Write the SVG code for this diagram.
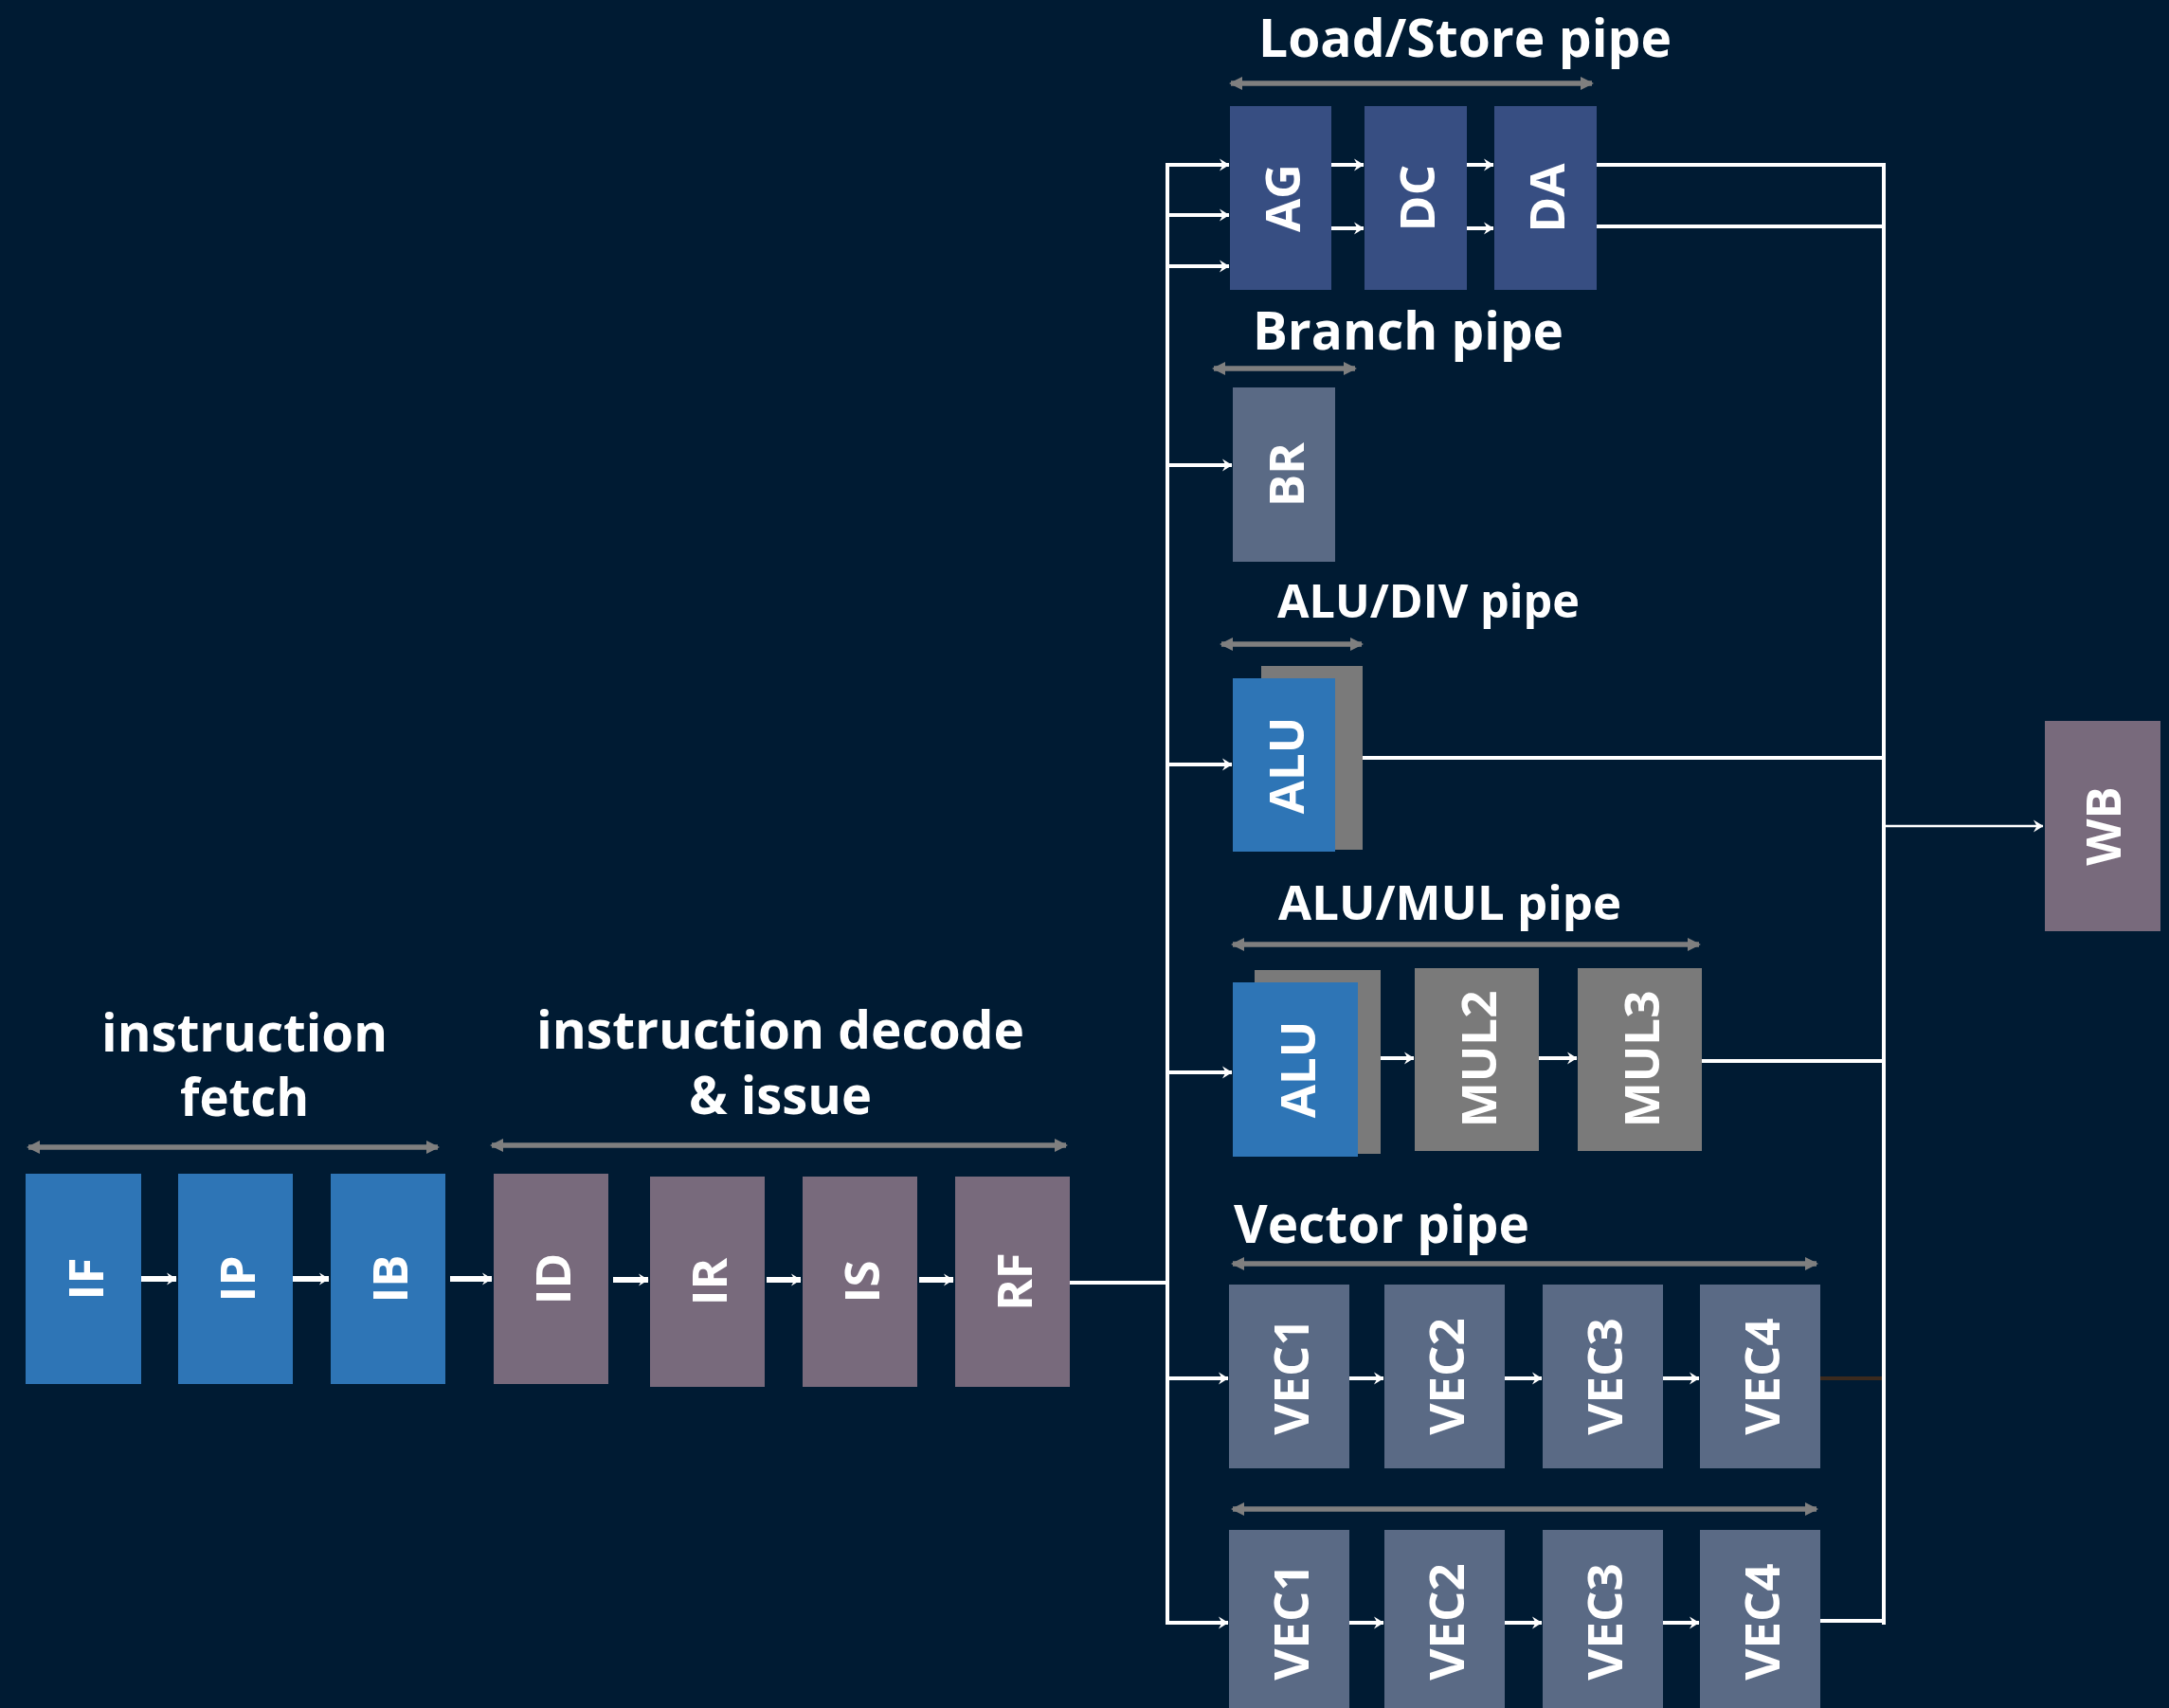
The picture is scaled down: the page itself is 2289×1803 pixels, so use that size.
<svg xmlns="http://www.w3.org/2000/svg" width="2289" height="1803" viewBox="0 0 2289 1803">
<defs>
<style>
.hdr{font-family:"Open Sans","Liberation Sans",sans-serif;font-weight:700;fill:#ffffff}
.lbl{font-family:"Open Sans","Liberation Sans",sans-serif;font-weight:700;font-size:51px;fill:#ffffff;text-anchor:middle}
.blue{fill:#2e75b6}
.mauve{fill:#786a7c}
.ls{fill:#374e82}
.slate{fill:#5a6a85}
.gray{fill:#7a7a7a}
.span{stroke:#7f7f7f;stroke-width:5.5;fill:none;marker-start:url(#dbl);marker-end:url(#dbl)}
.thick{stroke:#ffffff;stroke-width:6;fill:none;marker-end:url(#chev)}
.flow{stroke:#ffffff;stroke-width:4;fill:none;marker-end:url(#chev)}
.bus{stroke:#ffffff;stroke-width:4;fill:none}
</style>
<marker id="dbl" markerUnits="userSpaceOnUse" markerWidth="16" markerHeight="16" refX="12" refY="8" orient="auto-start-reverse">
<path d="M0,1 L14,8 L0,15 Z" fill="#7f7f7f"/>
</marker>
<marker id="chev" markerUnits="userSpaceOnUse" markerWidth="12" markerHeight="16" refX="10" refY="8" orient="auto">
<path d="M0,1.5 L10.5,8 L0,14.5 L3.5,8 Z" fill="#ffffff"/>
</marker>
</defs>
<rect x="0" y="0" width="2289" height="1803" fill="#001b33"/>

<g id="headers">
<text class="hdr" font-size="55" x="107" y="1110" textLength="302" lengthAdjust="spacingAndGlyphs">instruction</text>
<text class="hdr" font-size="55" x="190" y="1178" textLength="136" lengthAdjust="spacingAndGlyphs">fetch</text>
<text class="hdr" font-size="55" x="566" y="1107" textLength="515" lengthAdjust="spacingAndGlyphs">instruction decode</text>
<text class="hdr" font-size="55" x="727" y="1176" textLength="193" lengthAdjust="spacingAndGlyphs">&amp; issue</text>
<text class="hdr" font-size="55" x="1328" y="60" textLength="436" lengthAdjust="spacingAndGlyphs">Load/Store pipe</text>
<text class="hdr" font-size="55" x="1322" y="369" textLength="328" lengthAdjust="spacingAndGlyphs">Branch pipe</text>
<text class="hdr" font-size="49" x="1348" y="652" textLength="319" lengthAdjust="spacingAndGlyphs">ALU/DIV pipe</text>
<text class="hdr" font-size="51" x="1349" y="971" textLength="362" lengthAdjust="spacingAndGlyphs">ALU/MUL pipe</text>
<text class="hdr" font-size="55" x="1302" y="1312" textLength="312" lengthAdjust="spacingAndGlyphs">Vector pipe</text>
</g>

<g id="spans">
<line class="span" x1="30" y1="1211" x2="462" y2="1211"/>
<line class="span" x1="519" y1="1209" x2="1125" y2="1209"/>
<line class="span" x1="1299" y1="88" x2="1680" y2="88"/>
<line class="span" x1="1281" y1="389" x2="1430" y2="389"/>
<line class="span" x1="1289" y1="680" x2="1437" y2="680"/>
<line class="span" x1="1301" y1="997" x2="1793" y2="997"/>
<line class="span" x1="1301" y1="1334" x2="1917" y2="1334"/>
<line class="span" x1="1301" y1="1593" x2="1917" y2="1593"/>
</g>

<g id="IF"><rect class="blue" x="27" y="1239" width="122" height="222"/><text class="lbl" transform="translate(91,1350) rotate(-90)" dy="0.36em">IF</text></g>
<g id="IP"><rect class="blue" x="188" y="1239" width="121" height="222"/><text class="lbl" transform="translate(251,1350) rotate(-90)" dy="0.36em">IP</text></g>
<g id="IB"><rect class="blue" x="349" y="1239" width="121" height="222"/><text class="lbl" transform="translate(412,1350) rotate(-90)" dy="0.36em">IB</text></g>
<g id="ID"><rect class="mauve" x="521" y="1239" width="121" height="222"/><text class="lbl" transform="translate(584,1350) rotate(-90)" dy="0.36em">ID</text></g>
<g id="IR"><rect class="mauve" x="686" y="1242" width="121" height="222"/><text class="lbl" transform="translate(749,1353) rotate(-90)" dy="0.36em">IR</text></g>
<g id="IS"><rect class="mauve" x="847" y="1242" width="121" height="222"/><text class="lbl" transform="translate(910,1353) rotate(-90)" dy="0.36em">IS</text></g>
<g id="RF"><rect class="mauve" x="1008" y="1242" width="121" height="222"/><text class="lbl" transform="translate(1071,1353) rotate(-90)" dy="0.36em">RF</text></g>

<g id="AG"><rect class="ls" x="1298" y="112" width="107" height="194"/><text class="lbl" transform="translate(1354,209) rotate(-90)" dy="0.36em">AG</text></g>
<g id="DC"><rect class="ls" x="1440" y="112" width="108" height="194"/><text class="lbl" transform="translate(1496,209) rotate(-90)" dy="0.36em">DC</text></g>
<g id="DA"><rect class="ls" x="1577" y="112" width="108" height="194"/><text class="lbl" transform="translate(1633,209) rotate(-90)" dy="0.36em">DA</text></g>

<g id="BR"><rect class="slate" x="1301" y="409" width="108" height="184"/><text class="lbl" transform="translate(1358,501) rotate(-90)" dy="0.36em">BR</text></g>

<g id="ALU_DIV"><rect class="gray" x="1331" y="703" width="107" height="194"/><rect class="blue" x="1301" y="716" width="108" height="183"/><text class="lbl" transform="translate(1358,808) rotate(-90)" dy="0.36em">ALU</text></g>

<g id="ALU_MUL"><rect class="gray" x="1324" y="1024" width="133" height="194"/><rect class="blue" x="1301" y="1037" width="132" height="184"/><text class="lbl" transform="translate(1370,1129) rotate(-90)" dy="0.36em">ALU</text></g>
<g id="MUL2"><rect class="gray" x="1493" y="1022" width="131" height="193"/><text class="lbl" transform="translate(1561,1118) rotate(-90)" dy="0.36em">MUL2</text></g>
<g id="MUL3"><rect class="gray" x="1665" y="1022" width="131" height="193"/><text class="lbl" transform="translate(1733,1118) rotate(-90)" dy="0.36em">MUL3</text></g>

<g id="VEC1a"><rect class="slate" x="1297" y="1356" width="127" height="194"/><text class="lbl" transform="translate(1363,1453) rotate(-90)" dy="0.36em">VEC1</text></g>
<g id="VEC2a"><rect class="slate" x="1461" y="1356" width="127" height="194"/><text class="lbl" transform="translate(1527,1453) rotate(-90)" dy="0.36em">VEC2</text></g>
<g id="VEC3a"><rect class="slate" x="1628" y="1356" width="127" height="194"/><text class="lbl" transform="translate(1694,1453) rotate(-90)" dy="0.36em">VEC3</text></g>
<g id="VEC4a"><rect class="slate" x="1794" y="1356" width="127" height="194"/><text class="lbl" transform="translate(1860,1453) rotate(-90)" dy="0.36em">VEC4</text></g>

<g id="VEC1b"><rect class="slate" x="1297" y="1615" width="127" height="194"/><text class="lbl" transform="translate(1363,1712) rotate(-90)" dy="0.36em">VEC1</text></g>
<g id="VEC2b"><rect class="slate" x="1461" y="1615" width="127" height="194"/><text class="lbl" transform="translate(1527,1712) rotate(-90)" dy="0.36em">VEC2</text></g>
<g id="VEC3b"><rect class="slate" x="1628" y="1615" width="127" height="194"/><text class="lbl" transform="translate(1694,1712) rotate(-90)" dy="0.36em">VEC3</text></g>
<g id="VEC4b"><rect class="slate" x="1794" y="1615" width="127" height="194"/><text class="lbl" transform="translate(1860,1712) rotate(-90)" dy="0.36em">VEC4</text></g>

<g id="WB"><rect class="mauve" x="2158" y="761" width="122" height="222"/><text class="lbl" transform="translate(2220,872) rotate(-90)" dy="0.36em">WB</text></g>

<g id="connectors">
<line class="thick" x1="149" y1="1350" x2="186" y2="1350"/>
<line class="thick" x1="309" y1="1350" x2="347" y2="1350"/>
<line class="thick" x1="475" y1="1350" x2="519" y2="1350"/>
<line class="thick" x1="647" y1="1351" x2="684" y2="1351"/>
<line class="thick" x1="809" y1="1351" x2="845" y2="1351"/>
<line class="thick" x1="970" y1="1351" x2="1006" y2="1351"/>

<line class="bus" x1="1129" y1="1354" x2="1232" y2="1354"/>
<line class="bus" x1="1232" y1="172" x2="1232" y2="1715"/>
<line class="bus" x1="1988" y1="172" x2="1988" y2="1715"/>

<line class="flow" x1="1232" y1="174" x2="1297" y2="174"/>
<line class="flow" x1="1232" y1="227" x2="1297" y2="227"/>
<line class="flow" x1="1232" y1="281" x2="1297" y2="281"/>
<line class="flow" x1="1405" y1="174" x2="1439" y2="174"/>
<line class="flow" x1="1405" y1="241" x2="1439" y2="241"/>
<line class="flow" x1="1548" y1="174" x2="1576" y2="174"/>
<line class="flow" x1="1548" y1="241" x2="1576" y2="241"/>
<line class="bus" x1="1685" y1="174" x2="1990" y2="174"/>
<line class="bus" x1="1685" y1="239" x2="1990" y2="239"/>

<line class="flow" x1="1232" y1="491" x2="1300" y2="491"/>

<line class="flow" x1="1232" y1="807" x2="1300" y2="807"/>
<line class="bus" x1="1438" y1="800" x2="1990" y2="800"/>

<line class="flow" x1="1232" y1="1132" x2="1300" y2="1132"/>
<line class="flow" x1="1457" y1="1117" x2="1492" y2="1117"/>
<line class="flow" x1="1624" y1="1117" x2="1664" y2="1117"/>
<line class="bus" x1="1796" y1="1120" x2="1990" y2="1120"/>

<line class="flow" x1="1232" y1="1455" x2="1296" y2="1455"/>
<line class="flow" x1="1424" y1="1455" x2="1460" y2="1455"/>
<line class="flow" x1="1588" y1="1455" x2="1627" y2="1455"/>
<line class="flow" x1="1755" y1="1455" x2="1793" y2="1455"/>
<line x1="1921" y1="1455" x2="1986" y2="1455" stroke="#3b2a1e" stroke-width="4"/>

<line class="flow" x1="1232" y1="1713" x2="1296" y2="1713"/>
<line class="flow" x1="1424" y1="1713" x2="1460" y2="1713"/>
<line class="flow" x1="1588" y1="1713" x2="1627" y2="1713"/>
<line class="flow" x1="1755" y1="1713" x2="1793" y2="1713"/>
<line class="bus" x1="1921" y1="1711" x2="1990" y2="1711"/>

<line x1="1990" y1="872" x2="2156" y2="872" stroke="#ffffff" stroke-width="2.5" marker-end="url(#chev)"/>
</g>
</svg>
